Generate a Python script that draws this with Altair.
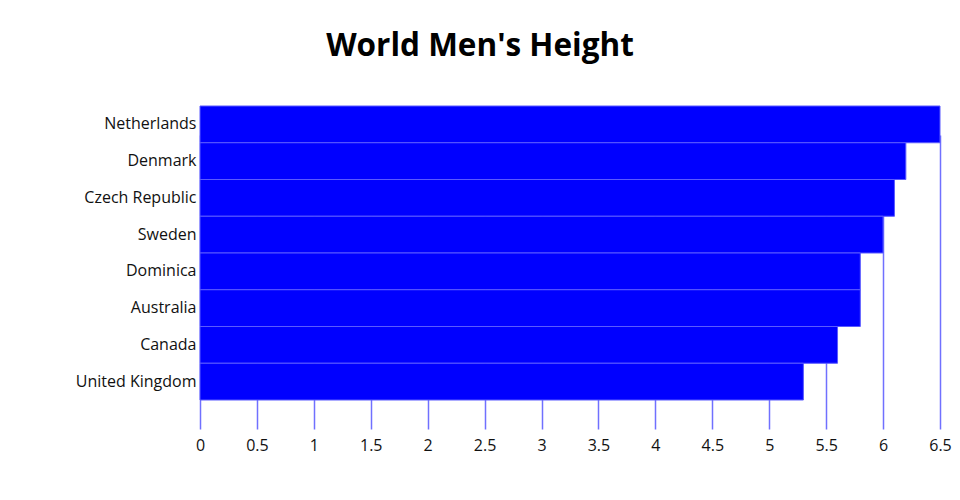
import altair as alt
import pandas as pd

countries = ["Netherlands", "Denmark", "Czech Republic", "Sweden", "Dominica",
             "Australia", "Canada", "United Kingdom"]
heights = [6.5, 6.2, 6.1, 6.0, 5.8, 5.8, 5.6, 5.3]
x_ticks = [0, 0.5, 1, 1.5, 2, 2.5, 3, 3.5, 4, 4.5, 5, 5.5, 6, 6.5]

df = pd.DataFrame({"country": countries, "height": heights})

chart = alt.Chart(df).mark_bar(
    color="#0000ff", stroke="#5a5aff", strokeWidth=1
).encode(
    x=alt.X("height:Q",
            scale=alt.Scale(domain=[0, 6.5], nice=False),
            axis=alt.Axis(title=None, values=x_ticks, format="~g", grid=True,
                          gridColor="#7070ff", gridWidth=1.5, ticks=False, domain=False,
                          labelPadding=8, labelFontSize=16, labelColor="#111",
                          labelFont="Open Sans", labelFlush=False)),
    y=alt.Y("country:N", sort=countries,
            scale=alt.Scale(range=[0, 294], paddingInner=0, paddingOuter=0),
            axis=alt.Axis(title=None, ticks=False, domain=False, labelPadding=4,
                          labelFontSize=16, labelColor="#111", labelFont="Open Sans")),
).properties(
    width=740, height=323,
    title=alt.TitleParams("World Men's Height", fontSize=31.5, font="Open Sans",
                          fontWeight="bold", color="#000", anchor="middle",
                          dx=-90, offset=43),
    autosize=alt.AutoSizeParams(type="none"),
    padding={"left": 192, "top": 98, "right": 12, "bottom": 63},
).configure_view(stroke=None)

chart.save("out.html", embed_options={"renderer": "svg", "actions": False})
